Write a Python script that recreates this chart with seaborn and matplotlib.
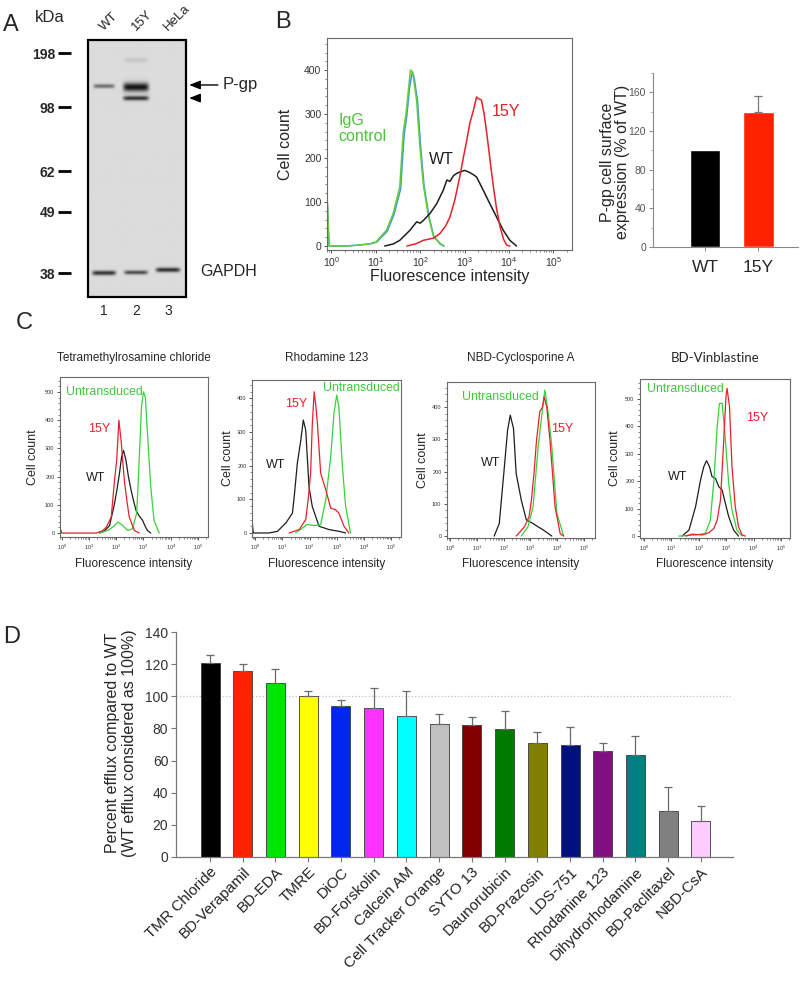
import numpy as np
import pandas as pd
import matplotlib.pyplot as plt
import matplotlib.transforms as mtransforms
from matplotlib.patches import Rectangle
from matplotlib.ticker import AutoMinorLocator, LogLocator, NullFormatter, MultipleLocator
import seaborn as sns

sns.set_theme(style="ticks")
plt.rcParams['font.family'] = ['Liberation Sans', 'DejaVu Sans']
plt.rcParams['mathtext.fontset'] = 'custom'
plt.rcParams['mathtext.rm'] = 'Liberation Sans'
plt.rcParams['mathtext.it'] = 'Liberation Sans:italic'

W, H = 800, 981

# ---------------- data ----------------
# Panel A: western blot (migration 0 = top of gel, 1 = bottom)
lanes = ["WT", "15Y", "HeLa"]
marker_kda = ["198", "98", "62", "49", "38"]
marker_pos = [0.051, 0.261, 0.51, 0.669, 0.907]
band_lane = [1, 2, 2, 2, 1, 2, 3]
band_pos = [0.179, 0.078, 0.183, 0.226, 0.907, 0.905, 0.895]
band_strength = [0.55, 0.10, 1.0, 0.85, 0.85, 0.72, 0.85]
band_thick = [0.008, 0.010, 0.017, 0.009, 0.009, 0.008, 0.009]
band_halfwidth = [0.33, 0.36, 0.40, 0.40, 0.37, 0.37, 0.38]

# Panel B: flow histogram (x = log10 fluorescence, y = cell count)
igg_blue_d = [-0.09, -0.07, -0.05, 0.3, 0.6, 0.88, 1.02, 1.26, 1.41, 1.56, 1.6, 1.64, 1.7, 1.76, 1.82, 1.86, 1.94, 2.01, 2.09, 2.2, 2.31, 2.46, 2.54]
igg_blue_c = [95, 35, 0, 0, 2, 5, 9, 34, 72, 130, 195, 255, 298, 360, 395, 385, 330, 225, 134, 66, 20, 5, 0]
igg_green_d = [-0.09, -0.07, -0.05, 0.3, 0.6, 0.86, 1.0, 1.24, 1.39, 1.54, 1.58, 1.62, 1.68, 1.74, 1.78, 1.83, 1.92, 1.99, 2.07, 2.18, 2.29, 2.44, 2.52]
igg_green_c = [100, 40, 0, 0, 2, 5, 9, 36, 74, 134, 200, 260, 300, 360, 400, 396, 330, 230, 140, 70, 25, 5, 0]
wt_b_d = [1.2, 1.4, 1.54, 1.77, 1.92, 2.0, 2.07, 2.22, 2.37, 2.52, 2.6, 2.67, 2.75, 2.82, 2.89, 3.0, 3.1, 3.2, 3.27, 3.42, 3.57, 3.72, 3.87, 4.02, 4.17]
wt_b_c = [0, 5, 13, 36, 55, 52, 58, 74, 96, 127, 150, 147, 160, 165, 168, 172, 168, 162, 157, 127, 96, 66, 36, 13, 0]
y15_b_d = [1.7, 1.9, 2.07, 2.3, 2.44, 2.57, 2.67, 2.78, 2.89, 2.97, 3.05, 3.12, 3.2, 3.27, 3.31, 3.38, 3.44, 3.5, 3.58, 3.65, 3.72, 3.8, 3.88, 3.95, 4.02]
y15_b_c = [0, 5, 13, 18, 28, 45, 66, 105, 157, 200, 241, 280, 309, 339, 335, 332, 300, 256, 190, 134, 85, 43, 15, 2, 0]

# Panel B: surface expression bars
surface_groups = ["WT", "15Y"]
surface_values = [100, 140]
surface_err = [0, 16]

# Panel C: four substrate histograms
c_titles = ["Tetramethylrosamine chloride", "Rhodamine 123", "NBD-Cyclosporine A", "BD-Vinblastine"]
c1_wt_d = [1.39, 1.6, 1.76, 1.94, 2.04, 2.12, 2.2, 2.27, 2.36, 2.45, 2.55, 2.65, 2.73, 2.85, 2.97, 3.06, 3.15, 3.27]
c1_wt_c = [0, 10, 27, 104, 160, 210, 270, 293, 258, 200, 151, 110, 80, 60, 45, 25, 9, 0]
c1_15y_d = [-0.05, -0.02, 0.0, 1.27, 1.5, 1.64, 1.82, 1.94, 2.02, 2.1, 2.18, 2.3, 2.4, 2.48, 2.67, 2.85]
c1_15y_c = [10, 10, 0, 0, 8, 21, 57, 187, 258, 400, 329, 187, 110, 57, 9, 0]
c1_un_d = [1.39, 1.7, 1.88, 2.06, 2.24, 2.42, 2.6, 2.75, 2.8, 2.85, 2.93, 3.0, 3.07, 3.15, 3.27, 3.39, 3.58]
c1_un_c = [0, 10, 21, 39, 27, 9, 15, 69, 160, 270, 447, 500, 482, 352, 163, 45, 0]

c2_wt_d = [-0.12, -0.1, -0.07, 0.5, 0.64, 0.82, 1.13, 1.37, 1.45, 1.55, 1.68, 1.77, 1.86, 1.98, 2.1, 2.35, 2.72, 3.08, 3.33]
c2_wt_c = [50, 20, 0, 0, 2, 5, 30, 59, 120, 207, 277, 336, 306, 138, 79, 20, 10, 5, 0]
c2_15y_d = [1.25, 1.62, 1.86, 1.95, 2.04, 2.1, 2.17, 2.23, 2.29, 2.41, 2.6, 2.78, 2.96, 3.08, 3.27, 3.45]
c2_15y_c = [0, 10, 40, 100, 178, 320, 420, 380, 326, 178, 128, 74, 69, 59, 20, 0]
c2_un_d = [1.49, 1.74, 1.92, 2.17, 2.41, 2.6, 2.78, 2.9, 3.0, 3.08, 3.21, 3.33, 3.51]
c2_un_c = [0, 15, 25, 22, 25, 99, 227, 356, 410, 375, 198, 79, 0]

c3_wt_d = [1.65, 1.84, 2.03, 2.15, 2.25, 2.37, 2.47, 2.66, 2.85, 3.1, 3.3, 3.48, 3.8]
c3_wt_c = [0, 39, 215, 329, 375, 334, 194, 112, 50, 39, 28, 19, 0]
c3_15y_d = [2.47, 2.78, 2.95, 3.04, 3.14, 3.23, 3.35, 3.45, 3.51, 3.61, 3.73, 3.92, 4.11, 4.24]
c3_15y_c = [0, 29, 60, 112, 200, 298, 386, 400, 432, 401, 298, 91, 8, 0]
c3_un_d = [2.66, 2.91, 3.1, 3.29, 3.42, 3.54, 3.67, 3.8, 3.99, 4.24]
c3_un_c = [0, 29, 91, 277, 370, 453, 380, 277, 70, 0]

c4_wt_d = [1.39, 1.64, 1.88, 2.06, 2.18, 2.28, 2.39, 2.48, 2.61, 2.73, 2.85, 2.97, 3.09, 3.27, 3.45]
c4_wt_c = [0, 22, 107, 204, 253, 275, 253, 217, 210, 180, 168, 119, 71, 22, 0]
c4_un_d = [1.27, 1.88, 2.24, 2.42, 2.55, 2.67, 2.75, 2.85, 2.95, 3.09, 3.21, 3.39, 3.58]
c4_un_c = [0, 4, 10, 58, 204, 399, 484, 484, 375, 192, 95, 22, 0]
c4_15y_d = [1.52, 1.76, 2.12, 2.36, 2.55, 2.67, 2.79, 2.91, 2.99, 3.03, 3.12, 3.21, 3.33, 3.45, 3.58, 3.7]
c4_15y_c = [0, 7, 4, 12, 28, 58, 131, 350, 508, 539, 472, 253, 107, 34, 4, 0]

# Panel D: efflux relative to WT
compounds = ["TMR Chloride", "BD-Verapamil", "BD-EDA", "TMRE", "DiOC", "BD-Forskolin",
             "Calcein AM", "Cell Tracker Orange", "SYTO 13", "Daunorubicin", "BD-Prazosin",
             "LDS-751", "Rhodamine 123", "Dihydrorhodamine", "BD-Paclitaxel", "NBD-CsA"]
efflux = [121, 116, 108, 100, 94, 92.5, 88, 83, 82, 79.5, 70.7, 70, 66, 63.5, 28.4, 22.4]
efflux_err = [5, 4, 9, 3.5, 3.5, 12.5, 15, 6, 5, 11.2, 7.3, 11, 5, 12, 15.4, 9.1]
compound_colors = ["#000000", "#ff2200", "#00e600", "#ffff00", "#0026f0", "#ff33ff",
                   "#00ffff", "#c0c0c0", "#800000", "#007a00", "#808000", "#001080",
                   "#801080", "#008080", "#808080", "#ffccff"]

RED, BLACK, GREEN, BLUE = "#e8202a", "#1e1e1e", "#3cc83c", "#3a9ad9"

fig = plt.figure(figsize=(W / 100, H / 100), dpi=100)


def add_ax(l, t, r, b):
    ax = fig.add_axes([l / W, 1 - b / H, (r - l) / W, (b - t) / H])
    ax.px = (l, t, r, b)
    return ax


def ftext(x, y, s, **kw):
    fig.text(x / W, 1 - y / H, s, **kw)


def label_at(ax, which, text, xc, yc, **kw):
    l, t, r, b = ax.px
    if which == 'x':
        ax.set_xlabel(text, **kw)
        ax.xaxis.set_label_coords((xc - l) / (r - l), (b - yc) / (b - t))
        ax.xaxis.label.set_va('center')
    else:
        ax.set_ylabel(text, **kw)
        ax.yaxis.set_label_coords((xc - l) / (r - l), (b - yc) / (b - t))
        ax.yaxis.label.set_va('center')


# ---------------- A: western blot ----------------
axA = add_ax(88, 40, 186, 297)
xs = np.linspace(0.5, 3.56, 400)
ys = np.linspace(0, 1, 700)
X, Y = np.meshgrid(xs, ys)
dark = np.zeros_like(X)
for ln, pos, s, th, hw in zip(band_lane, band_pos, band_strength, band_thick, band_halfwidth):
    dark += s * np.exp(-((X - ln) / hw) ** 8) * np.exp(-((Y - pos) / th) ** 2)
img = 0.86 - 0.78 * np.clip(dark, 0, 1)
axA.imshow(img, cmap='gray', vmin=0, vmax=1, extent=(0.5, 3.56, 1, 0),
           aspect='auto', interpolation='bilinear')
axA.set_xlim(0.5, 3.56)
axA.set_ylim(1, 0)
for sp in axA.spines.values():
    sp.set_visible(False)
axA.add_patch(Rectangle((0, 0), 1, 1, transform=axA.transAxes, fill=False,
                        lw=1.6, ec='black', clip_on=False))
axA.spines['left'].set_position(('outward', 12))
axA.set_yticks(marker_pos)
axA.set_yticklabels(marker_kda, fontsize=10, fontweight='bold')
axA.tick_params(axis='y', length=9.5, width=2, pad=2, color='black')
axA.set_xticks([1, 2, 3])
axA.set_xticklabels(["1", "2", "3"], fontsize=10)
axA.tick_params(axis='x', length=0, pad=5)
trans = mtransforms.blended_transform_factory(axA.transData, axA.transAxes)
for i, ln in enumerate(lanes):
    axA.text(i + 1 + 0.05, 1.025, ln, transform=trans, rotation=45, ha='left',
             va='bottom', rotation_mode='anchor', fontsize=9.5)
arrow_style = '-|>,head_length=0.55,head_width=0.22'
axA.annotate("P-gp", xy=(3.66, 0.175), xytext=(4.7, 0.175), va='center', ha='left',
             fontsize=12, annotation_clip=False,
             arrowprops=dict(arrowstyle=arrow_style, color='black', lw=1,
                             shrinkA=1, shrinkB=0))
axA.annotate("", xy=(3.66, 0.226), xytext=(4.0, 0.226), annotation_clip=False,
             arrowprops=dict(arrowstyle=arrow_style, color='black', lw=1,
                             shrinkA=0, shrinkB=0, mutation_scale=12))
ftext(200, 272, "GAPDH", fontsize=11.5, ha='left', va='center')
ftext(50, 18, "kDa", fontsize=12, ha='center', va='center')
ftext(11, 25, "A", fontsize=17, ha='center', va='center')


# ---------------- histogram helper ----------------
def style_hist(ax, dlim, ylim, yticks, ylab_x, xlab_y, fs_tick, fs_lab, ylab_y=None):
    ax.set_xscale('log')
    ax.set_xlim(10 ** dlim[0], 10 ** dlim[1])
    ax.set_ylim(*ylim)
    ax.set_yticks(yticks)
    ax.yaxis.set_minor_locator(AutoMinorLocator(5))
    ax.xaxis.set_major_locator(LogLocator(base=10, numticks=10))
    ax.xaxis.set_minor_locator(LogLocator(base=10, subs=np.arange(2, 10), numticks=20))
    ax.xaxis.set_minor_formatter(NullFormatter())
    ax.tick_params(which='major', length=2.5, width=0.7, color='#555555',
                   labelsize=fs_tick, pad=1.5, labelcolor='#333333')
    ax.tick_params(which='minor', length=1.3, width=0.5, color='#555555')
    for sp in ax.spines.values():
        sp.set_color('#6a6a6a')
        sp.set_linewidth(0.8)
    l, t, r, b = ax.px
    label_at(ax, 'y', "Cell count", ylab_x, ylab_y if ylab_y else (t + b) / 2, fontsize=fs_lab)
    label_at(ax, 'x', "Fluorescence intensity", (l + r) / 2, xlab_y, fontsize=fs_lab)


def draw_curve(ax, d, c, color, lw=1.1):
    df = pd.DataFrame({"x": np.power(10.0, d), "y": c})
    sns.lineplot(data=df, x="x", y="y", color=color, lw=lw, ax=ax,
                 estimator=None, sort=False)


# ---------------- B: histogram ----------------
axB = add_ax(327, 38, 572, 250)
draw_curve(axB, igg_blue_d, igg_blue_c, BLUE)
draw_curve(axB, igg_green_d, igg_green_c, "#62cc3a")
draw_curve(axB, wt_b_d, wt_b_c, BLACK)
draw_curve(axB, y15_b_d, y15_b_c, RED)
style_hist(axB, (-0.1, 5.42), (-9, 473), [0, 100, 200, 300, 400], 286, 277, 7.5, 11.5)
ftext(338, 113, "IgG\ncontrol", color="#4cc23a", fontsize=11.5, ha='left', va='top', linespacing=1.05)
ftext(441, 160, "WT", color=BLACK, fontsize=11.5, ha='center', va='center')
ftext(506, 112, "15Y", color=RED, fontsize=11.5, ha='center', va='center')
ftext(283, 22, "B", fontsize=17, ha='center', va='center')

# ---------------- B: bar chart ----------------
axBb = add_ax(653, 73, 798, 247)
sns.barplot(x=surface_groups, y=surface_values, hue=surface_groups,
            palette=["#000000", "#ff2200"], width=0.58, legend=False,
            saturation=1, ax=axBb)
for i, (v, e) in enumerate(zip(surface_values, surface_err)):
    if e > 0:
        axBb.errorbar(i, v, yerr=[[0], [e]], fmt='none', ecolor='#777777',
                      elinewidth=0.9, capsize=3, capthick=0.9)
axBb.set_xlim(-0.98, 1.75)
axBb.set_ylim(0, 180)
axBb.set_yticks([0, 40, 80, 120, 160])
axBb.yaxis.set_minor_locator(MultipleLocator(20))
sns.despine(ax=axBb)
for sp in ['left', 'bottom']:
    axBb.spines[sp].set_color('#888888')
    axBb.spines[sp].set_linewidth(0.8)
axBb.tick_params(axis='y', which='major', length=3, width=0.7, color='#888888',
                 labelsize=7.5, labelcolor='#555555', pad=2)
axBb.tick_params(axis='y', which='minor', length=1.5, width=0.5, color='#888888')
axBb.tick_params(axis='x', length=3, width=0.7, color='#888888', labelsize=12.5, pad=6)
label_at(axBb, 'y', "P-gp cell surface\nexpression (% of WT)", 615, 162, fontsize=11.5,
         linespacing=1.05)
axBb.set_xlabel("")

# ---------------- C: four histograms ----------------
c_boxes = [(60, 377, 208, 537), (252, 380, 401, 537), (447, 382, 595, 538), (640, 379, 790, 538)]
c_dlims = [(-0.06, 5.37), (-0.12, 5.37), (-0.11, 5.41), (-0.15, 5.33)]
c_ylims = [(-14, 553), (-12, 455), (-6, 478), (-7, 573)]
c_yticks = [[0, 100, 200, 300, 400, 500], [0, 100, 200, 300, 400],
            [0, 100, 200, 300, 400], [0, 100, 200, 300, 400, 500]]
c_curves = [
    [(c1_wt_d, c1_wt_c, BLACK), (c1_un_d, c1_un_c, "#36d236"), (c1_15y_d, c1_15y_c, RED)],
    [(c2_wt_d, c2_wt_c, BLACK), (c2_un_d, c2_un_c, "#36d236"), (c2_15y_d, c2_15y_c, RED)],
    [(c3_wt_d, c3_wt_c, BLACK), (c3_un_d, c3_un_c, "#36d236"), (c3_15y_d, c3_15y_c, RED)],
    [(c4_wt_d, c4_wt_c, BLACK), (c4_un_d, c4_un_c, "#36d236"), (c4_15y_d, c4_15y_c, RED)],
]
c_ylab_x = [33, 228, 423, 615]
c_text_pos = [
    {"Untransduced": (104, 392), "15Y": (99, 429), "WT": (96, 478)},
    {"Untransduced": (361, 388), "15Y": (296, 404), "WT": (276, 465)},
    {"Untransduced": (500, 397), "15Y": (562, 429), "WT": (491, 463)},
    {"Untransduced": (685, 389), "15Y": (757, 418), "WT": (678, 477)},
]
label_colors = {"Untransduced": "#3cc83c", "15Y": RED, "WT": BLACK}
for k in range(4):
    ax = add_ax(*c_boxes[k])
    for d, c, col in c_curves[k]:
        draw_curve(ax, d, c, col, lw=0.9)
    style_hist(ax, c_dlims[k], c_ylims[k], c_yticks[k], c_ylab_x[k], 564, 4, 9)
    ax.xaxis.label.set_fontsize(8.5)
    l, t, r, b = c_boxes[k]
    title_font = dict(family=['Lato', 'DejaVu Sans']) if k == 3 else {}
    ftext((l + r) / 2, 358, c_titles[k], fontsize=8.5 if k < 3 else 9.5,
          ha='center', va='center', **title_font)
    for name, (x, y) in c_text_pos[k].items():
        ftext(x, y, name, color=label_colors[name], fontsize=8.8 if name == "Untransduced" else 9,
              ha='center', va='center')
ftext(24, 323, "C", fontsize=17, ha='center', va='center')

# ---------------- D: efflux bars ----------------
axD = add_ax(176, 632, 733, 857)
axD.axhline(100, ls=':', color='#c4c4c4', lw=0.9, zorder=0)
sns.barplot(x=compounds, y=efflux, hue=compounds, palette=compound_colors,
            width=0.58, legend=False, saturation=1, edgecolor='#3a3a3a',
            linewidth=0.6, ax=axD)
axD.errorbar(np.arange(len(compounds)), efflux, yerr=[np.zeros(len(efflux)), efflux_err],
             fmt='none', ecolor='#6a6a6a', elinewidth=0.9, capsize=2.8, capthick=0.9, zorder=1)
axD.set_xlim(-1.04, 15.98)
axD.set_ylim(0, 140)
axD.set_yticks(np.arange(0, 141, 20))
sns.despine(ax=axD)
for sp in ['left', 'bottom']:
    axD.spines[sp].set_color('#777777')
    axD.spines[sp].set_linewidth(0.9)
axD.tick_params(axis='y', length=3.5, width=0.8, color='#777777', labelsize=10,
                labelcolor='#333333', pad=2)
axD.tick_params(axis='x', length=3.5, width=0.8, color='#777777', pad=2)
plt.setp(axD.get_xticklabels(), rotation=45, ha='right', rotation_mode='anchor',
         fontsize=11, color='#222222')
label_at(axD, 'y', "Percent efflux compared to WT\n(WT efflux considered as 100%)",
         121, 743, fontsize=11.5, linespacing=1.1)
axD.set_xlabel("")
ftext(12, 637, "D", fontsize=17, ha='center', va='center')

fig.savefig("out.png", dpi=100)
